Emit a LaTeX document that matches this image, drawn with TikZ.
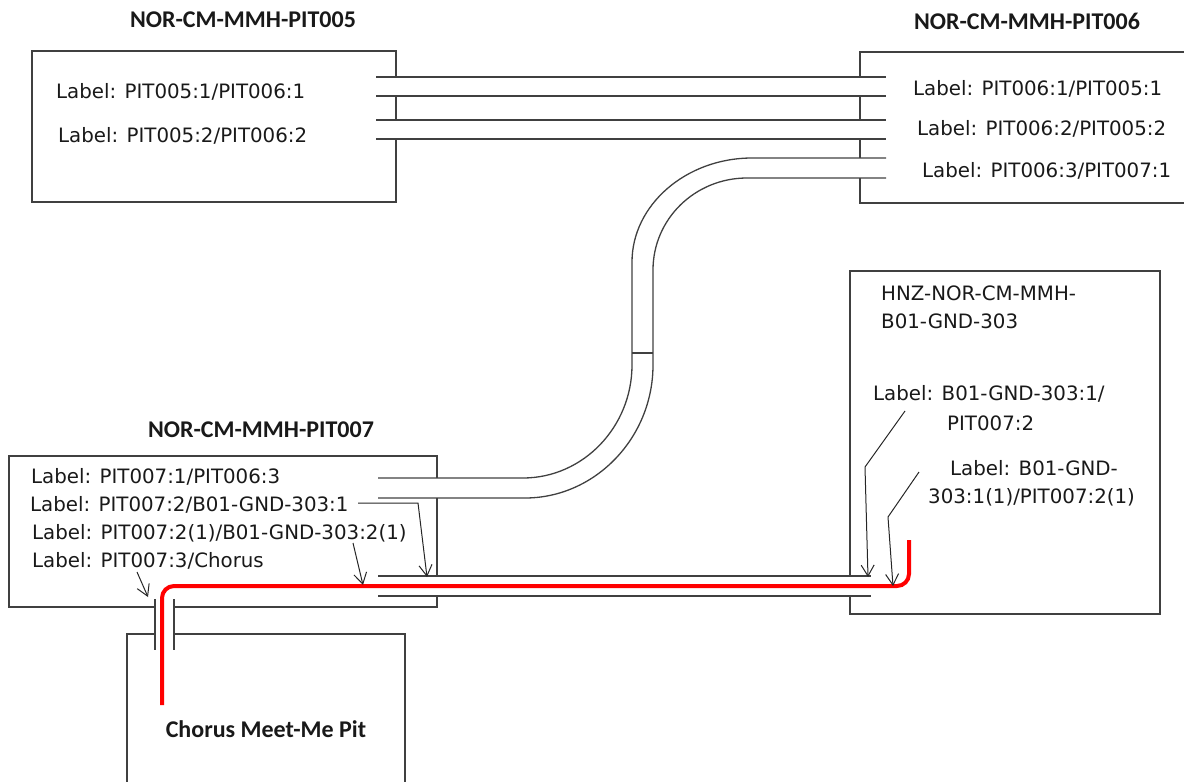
\documentclass[tikz,border=0pt]{standalone}
\usepackage{fontspec}
\setmainfont{DejaVu Sans}
\newfontfamily\titlefont{Carlito}
\usetikzlibrary{arrows.meta}
\begin{document}
\begin{tikzpicture}[x=1pt,y=-1pt,
  boxedge/.style={line width=1.3pt, draw=black!75},
  wire/.style={line width=1.3pt, draw=black!75},
  lbl/.style={font=\fontsize{19.8}{22}\selectfont, anchor=base west, inner sep=0pt, text=black!90},
  ttl/.style={font=\titlefont\bfseries\fontsize{24}{26}\selectfont, anchor=base, inner sep=0pt, text=black!90},
  ptr/.style={line width=1pt, draw=black!85, -{Straight Barb[length=11pt,width=13pt]}},
  redwire/.style={line width=4pt, draw=red, rounded corners=12pt}]
\useasboundingbox (0,0) rectangle (1184,782);

% ---------- boxes ----------
% PIT005
\draw[boxedge] (396,77) -- (396,51) -- (32,51) -- (32,202) -- (396,202) -- (396,139);
\draw[boxedge] (396,96) -- (396,120);
% PIT006
\draw[boxedge] (860,77) -- (860,52) -- (1195,52);
\draw[boxedge] (860,96) -- (860,120);
\draw[boxedge] (860,139) -- (860,158);
\draw[boxedge] (860,178) -- (860,203) -- (1195,203);
% PIT007
\draw[boxedge] (437,478) -- (437,456) -- (9,456) -- (9,607) -- (155,607);
\draw[boxedge] (174,607) -- (437,607) -- (437,596);
\draw[boxedge] (437,498) -- (437,576);
% B01-GND-303
\draw[boxedge] (850,576) -- (850,271) -- (1160,271) -- (1160,614) -- (850,614) -- (850,596);
% Chorus pit
\draw[boxedge] (155,634) -- (127,634) -- (127,790);
\draw[boxedge] (174,634) -- (405,634) -- (405,790);

% ---------- cables ----------
\draw[wire] (376,77) -- (886,77);
\draw[wire] (376,96) -- (886,96);
\draw[wire] (376,120) -- (886,120);
\draw[wire] (376,139) -- (886,139);
% PIT006 -> PIT007 curved cable
\draw[wire] (886,158) -- (752,158) .. controls (686,158) and (632,205) .. (632,262)
  -- (632,365) .. controls (632,427) and (583,478) .. (523,478) -- (378,478);
\draw[wire] (886,178) -- (747,178) .. controls (695,178) and (653,219) .. (653,270)
  -- (653,365) .. controls (653,438) and (595,498) .. (525,498) -- (378,498);
\draw[wire] (632,353) -- (653,353);
% PIT007 -> B01 cable
\draw[wire] (378,576) -- (871,576);
\draw[wire] (378,596) -- (871,596);
% PIT007 -> Chorus cable
\draw[wire] (155,599) -- (155,650);
\draw[wire] (174,599) -- (174,650);
% red trace
\draw[redwire] (162,705) -- (162,586) -- (909,586) -- (909,540);

% ---------- titles ----------
\node[ttl] (t5) at (243,27) {NOR-CM-MMH-PIT005};
\node[ttl] (t6) at (1027,29) {NOR-CM-MMH-PIT006};
\node[ttl] (t7) at (261,437) {NOR-CM-MMH-PIT007};
\node[ttl] (tc) at (266,737) {Chorus Meet-Me Pit};

% ---------- labels ----------
\node[lbl] (l51) at (56,98) {Label: PIT005:1/PIT006:1};
\node[lbl] (l52) at (58,142) {Label: PIT005:2/PIT006:2};
\node[lbl] (l61) at (913,95) {Label: PIT006:1/PIT005:1};
\node[lbl] (l62) at (917,135) {Label: PIT006:2/PIT005:2};
\node[lbl] (l63) at (922,177) {Label: PIT006:3/PIT007:1};
\node[lbl] (l71) at (31,483) {Label: PIT007:1/PIT006:3};
\node[lbl] (l72) at (30,511) {Label: PIT007:2/B01-GND-303:1};
\node[lbl] (l73) at (32,539) {Label: PIT007:2(1)/B01-GND-303:2(1)};
\node[lbl] (l74) at (32,567) {Label: PIT007:3/Chorus};
\node[lbl] (b1) at (881,300) {HNZ-NOR-CM-MMH-};
\node[lbl] (b2) at (881,328) {B01-GND-303};
\node[lbl] (b3) at (873,400) {Label: B01-GND-303:1/};
\node[lbl] (b4) at (947,430) {PIT007:2};
\node[lbl] (b5) at (950,475) {Label: B01-GND-};
\node[lbl] (b6) at (928,503) {303:1(1)/PIT007:2(1)};

% ---------- pointers ----------
\coordinate (s1) at (358,503);
\coordinate (p1) at (427,577);
\coordinate (p2) at (363,585);
\coordinate (p3) at (148,597);
\coordinate (p4) at (868,577);
\coordinate (p5) at (893,586);
\draw[ptr] (s1) -- (418,503) -- (p1);
\draw[ptr] (353,543) -- (p2);
\draw[ptr] (137,572) -- (p3);
\draw[ptr] (905,411) -- (865,467) -- (p4);
\draw[ptr] (919,472) -- (888,517) -- (p5);
\end{tikzpicture}
\end{document}
